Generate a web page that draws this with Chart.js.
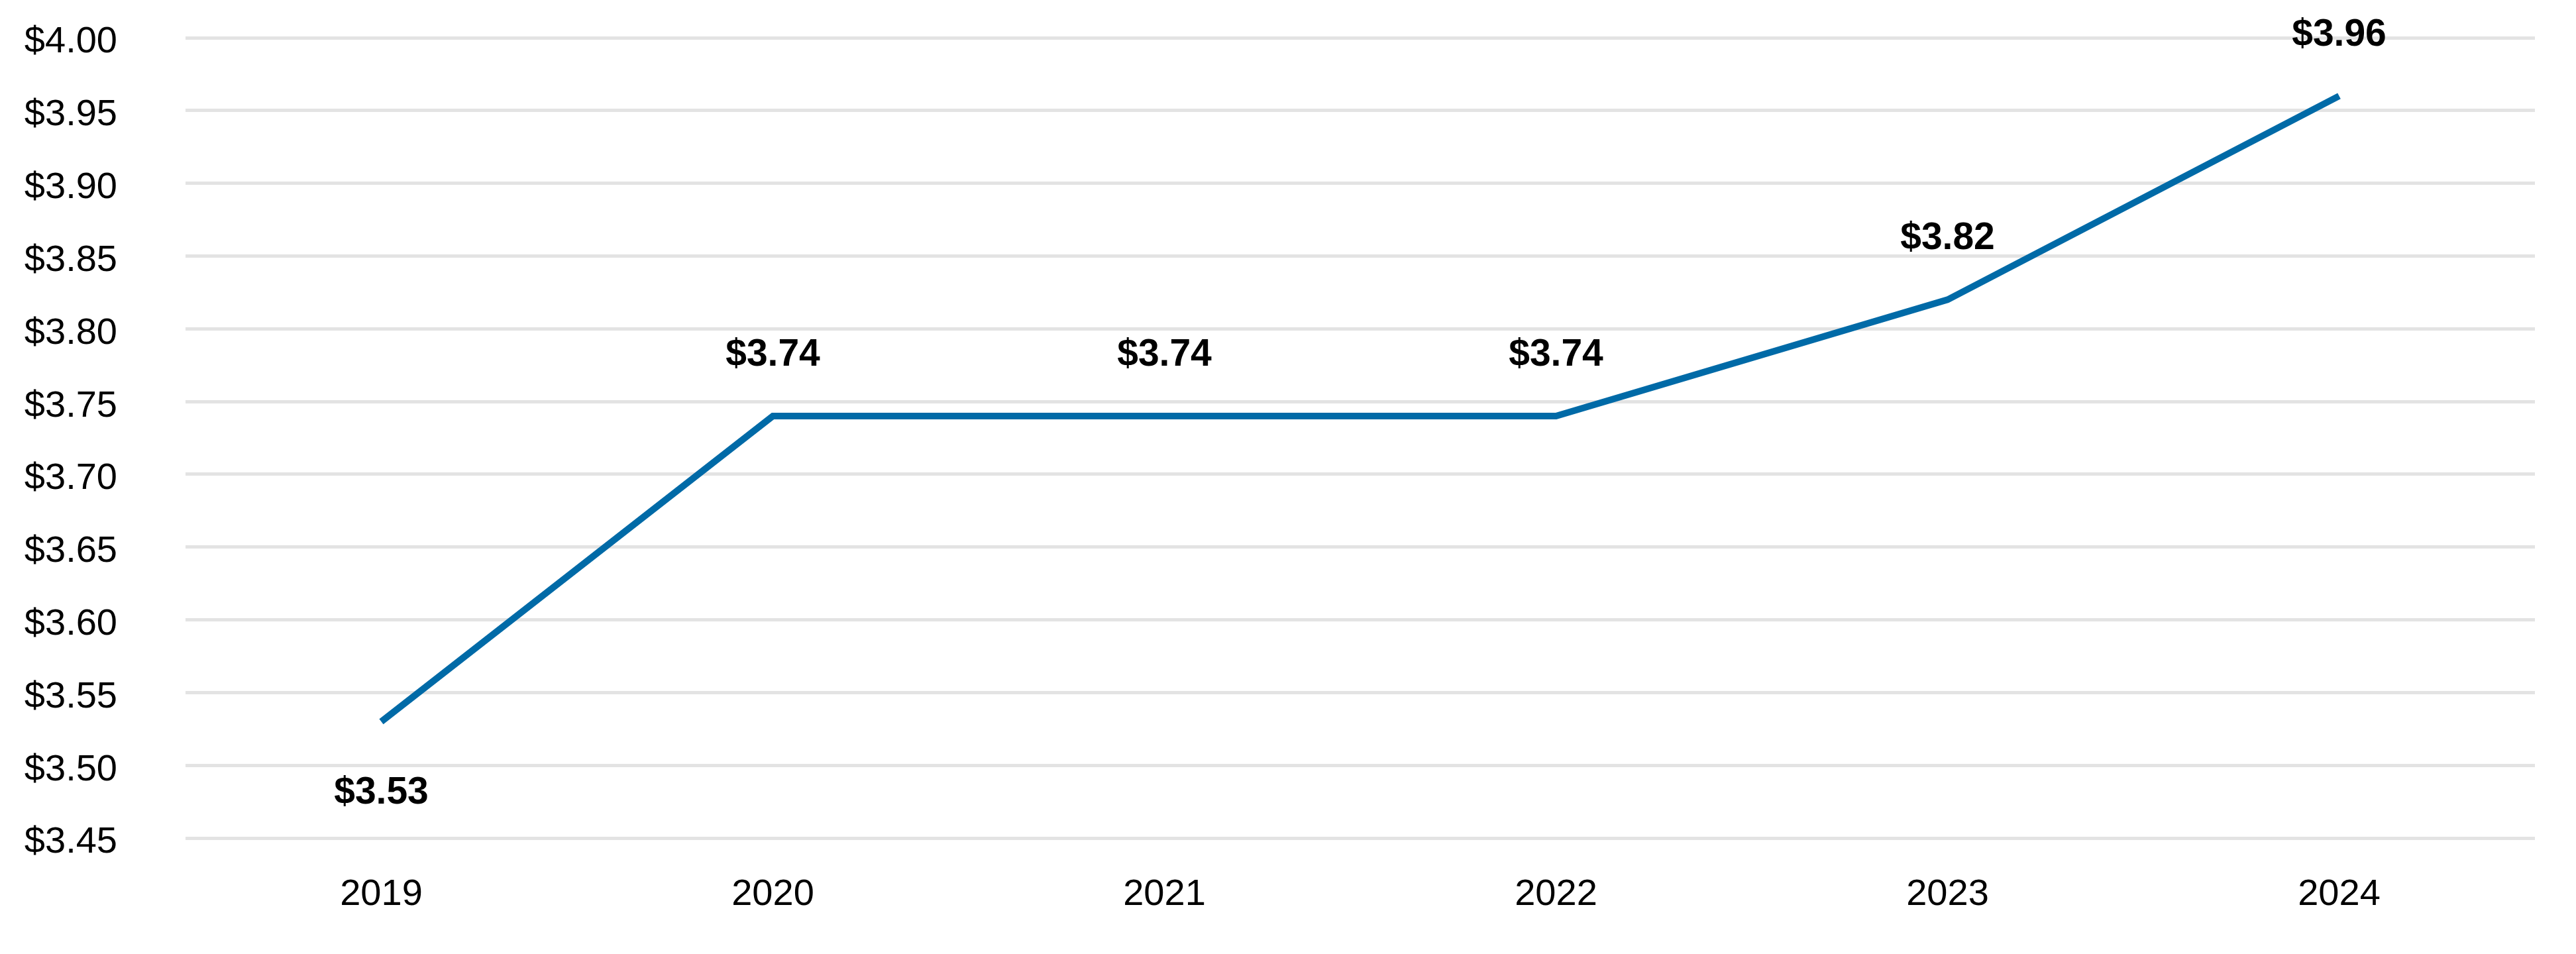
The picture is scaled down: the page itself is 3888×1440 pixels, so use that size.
<!DOCTYPE html>
<html>
<head>
<meta charset="utf-8">
<script src="https://cdn.jsdelivr.net/npm/chart.js@4.4.1/dist/chart.umd.min.js"></script>
<style>
  html, body { margin: 0; padding: 0; background: #fff; }
  #wrap { width: 3888px; height: 1440px; }
</style>
</head>
<body>
<div id="wrap"><canvas id="priceChart" width="3888" height="1440"></canvas></div>
<script>
// Chart data
const years = ["2019", "2020", "2021", "2022", "2023", "2024"];
const prices = [3.53, 3.74, 3.74, 3.74, 3.82, 3.96];
const yMin = 3.45;
const yMax = 4.00;
const yStep = 0.05;

const FONT = "'Liberation Sans', Arial, sans-serif";

// Value labels above each point (first one goes below the line)
const valueLabels = {
    id: "valueLabels",
    afterDatasetsDraw(chart) {
        const ctx = chart.ctx;
        const meta = chart.getDatasetMeta(0);
        ctx.save();
        ctx.font = "bold 57px " + FONT;
        ctx.fillStyle = "#000";
        ctx.textAlign = "center";
        ctx.textBaseline = "middle";
        meta.data.forEach((pt, i) => {
            const below = i === 0;
            const y = below ? pt.y + 108 : pt.y - 92;
            ctx.fillText("$" + prices[i].toFixed(2), pt.x, y);
        });
        ctx.restore();
    }
};

const ctx = document.getElementById("priceChart").getContext("2d");
new Chart(ctx, {
    type: "line",
    data: {
        labels: years,
        datasets: [{
            data: prices,
            borderColor: "#006aa7",
            borderWidth: 10,
            pointRadius: 0,
            tension: 0,
            fill: false,
            borderCapStyle: "butt",
            borderJoinStyle: "miter"
        }]
    },
    options: {
        responsive: false,
        animation: false,
        layout: { padding: { top: 57, right: 62, left: 0, bottom: 0 } },
        plugins: {
            legend: { display: false },
            tooltip: { enabled: false }
        },
        scales: {
            x: {
                offset: true,
                grid: { display: false, drawTicks: false },
                border: { display: false },
                ticks: {
                    color: "#000",
                    font: { family: FONT, size: 56 },
                    padding: 52,
                    maxRotation: 0
                },
                afterFit(scale) {
                    scale.height = 175;
                    scale.paddingLeft = 0;
                    scale.paddingRight = 0;
                }
            },
            y: {
                min: yMin,
                max: yMax,
                grid: { color: "#e3e3e3", lineWidth: 5, drawTicks: false },
                border: { display: false },
                ticks: {
                    stepSize: yStep,
                    color: "#000",
                    font: { family: FONT, size: 56 },
                    padding: 103,
                    labelOffset: 7,
                    callback: (v) => "$" + Number(v).toFixed(2)
                },
                afterFit(scale) {
                    scale.width = 280;
                    scale.paddingTop = 0;
                    scale.paddingBottom = 0;
                }
            }
        }
    },
    plugins: [valueLabels]
});
</script>
</body>
</html>
